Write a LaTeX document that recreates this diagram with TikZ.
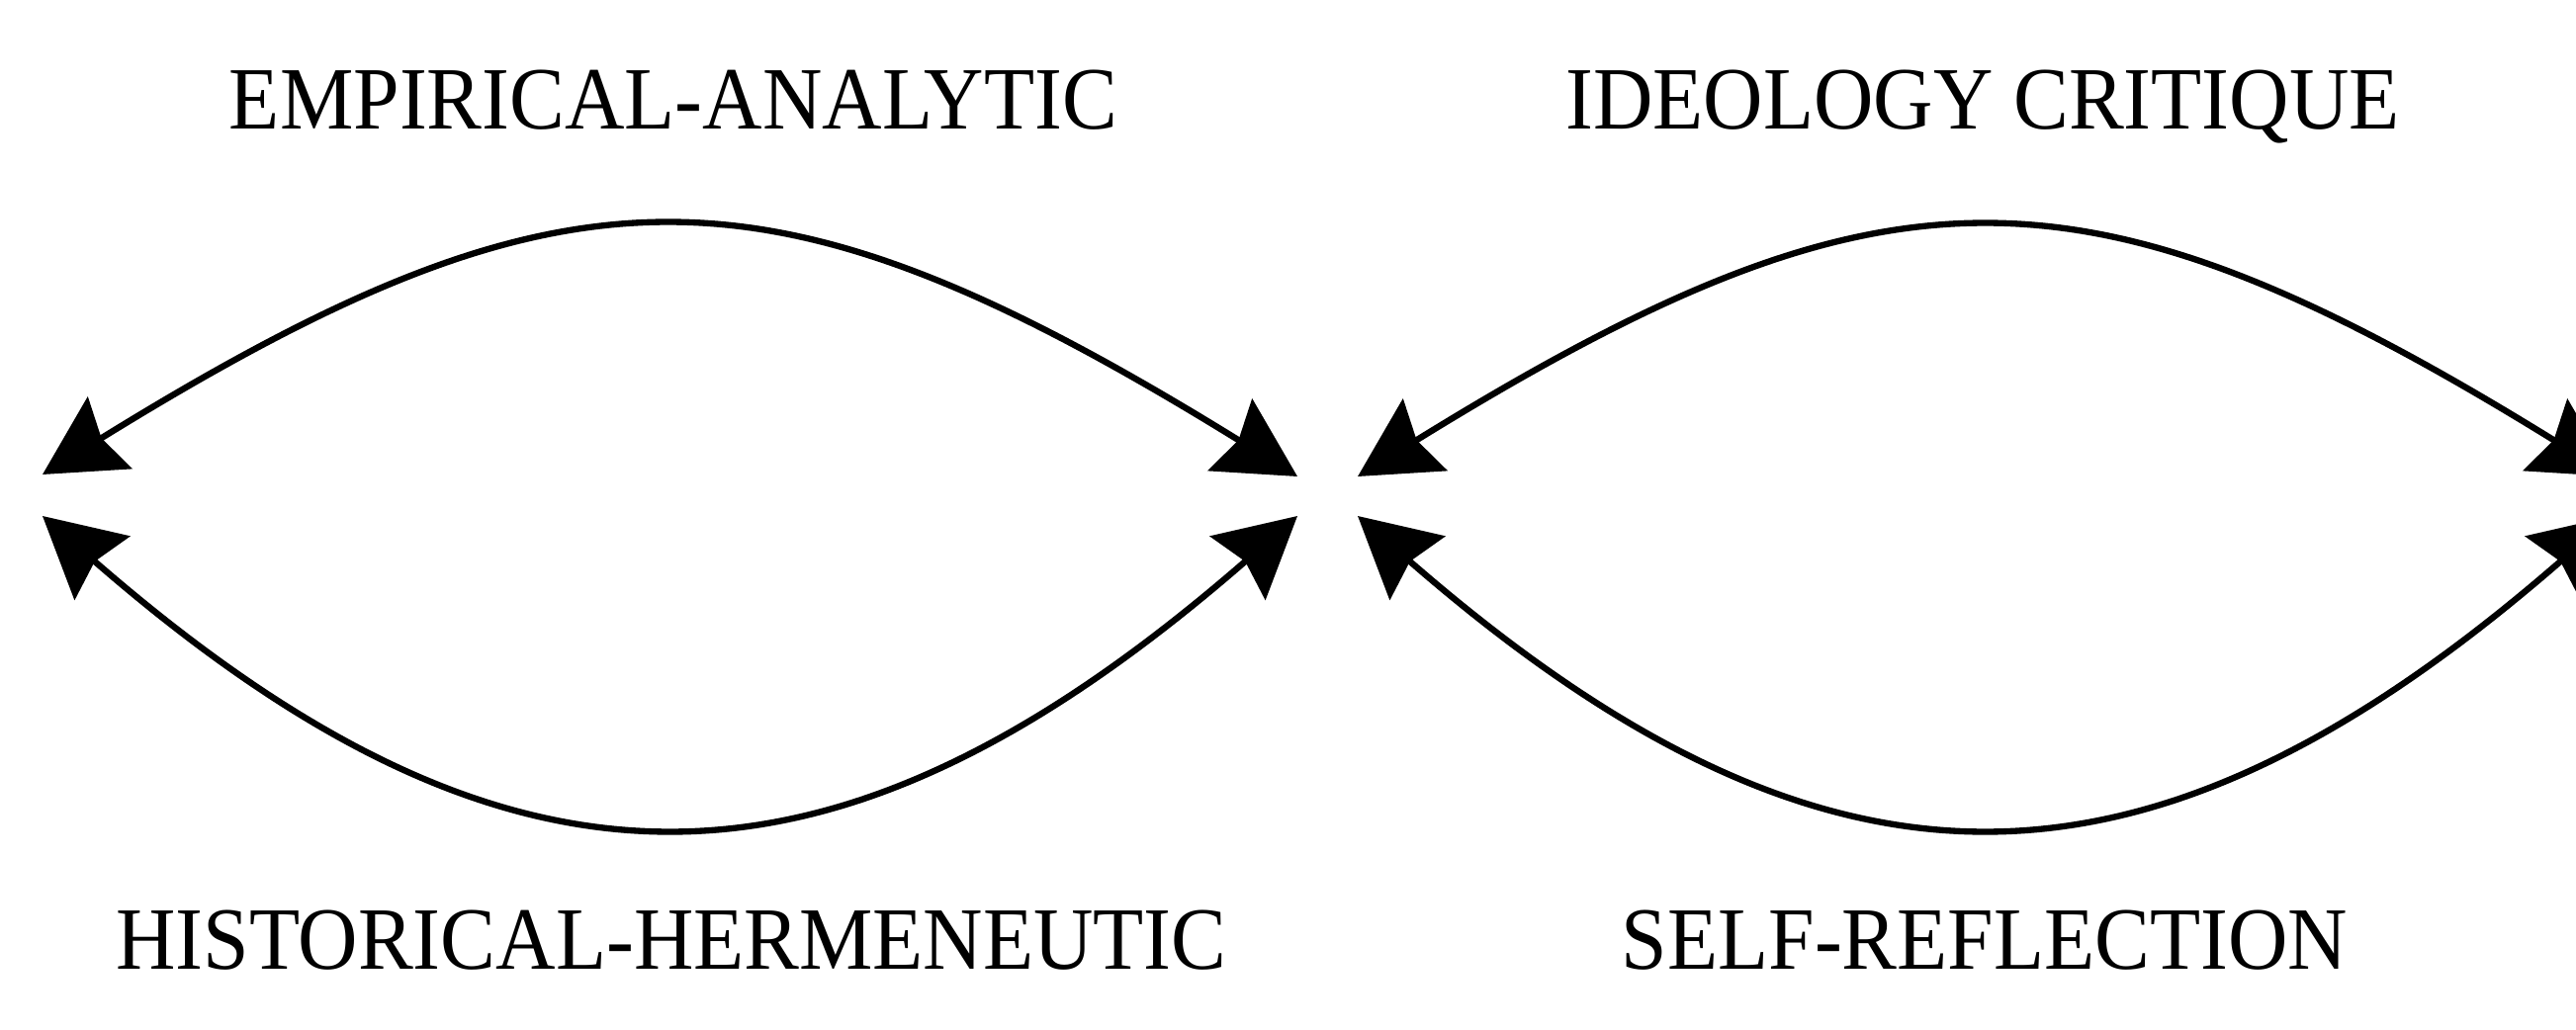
\documentclass[tikz,border=0pt]{standalone}
\usepackage{fontspec}
\setmainfont{Liberation Serif}[FakeStretch=0.93]
\usetikzlibrary{arrows.meta}
\begin{document}
\begin{tikzpicture}[
  lbl/.style={font=\fontsize{25.6pt}{30pt}\selectfont, anchor=base, inner sep=0pt},
  tip/.style={Stealth[length=0.8cm,width=0.85cm,inset=0.1cm]},
  arc/.style={line width=1.8pt, {Stealth[length=0.8cm,width=0.85cm,inset=0.1cm]}-{Stealth[length=0.8cm,width=0.85cm,inset=0.1cm]}}
]
\clip (0,0) rectangle (26.05,10.41);
\fill[white] (0,0) rectangle (26.05,10.41);
% labels
\node[lbl] (ea) at (6.81,9.11) {EMPIRICAL-ANALYTIC};
\node[lbl] (ic) at (20.05,9.11) {IDEOLOGY CRITIQUE};
\node[lbl] (hh) at (6.79,0.61) {HISTORICAL-HERMENEUTIC};
\node[lbl] (sr) at (20.07,0.61) {SELF-REFLECTION};
% endpoints
\coordinate (aUL) at (0.43,5.61);
\coordinate (aLL) at (0.43,5.19);
\coordinate (aUR) at (13.12,5.59);
\coordinate (aLR) at (13.12,5.19);
\coordinate (bUL) at (13.73,5.59);
\coordinate (bLL) at (13.73,5.19);
\coordinate (bUR) at (26.42,5.59);
\coordinate (bLR) at (26.42,5.19);
% arcs
\draw[arc] (aUL) .. controls +(5.34,3.3) and +(-5.34,3.3) .. (aUR);
\draw[arc] (aLL) .. controls +(4.72,-4.11) and +(-4.72,-4.11) .. (aLR);
\draw[arc] (bUL) .. controls +(5.34,3.3) and +(-5.34,3.3) .. (bUR);
\draw[arc] (bLL) .. controls +(4.72,-4.11) and +(-4.72,-4.11) .. (bLR);
\end{tikzpicture}
\end{document}
